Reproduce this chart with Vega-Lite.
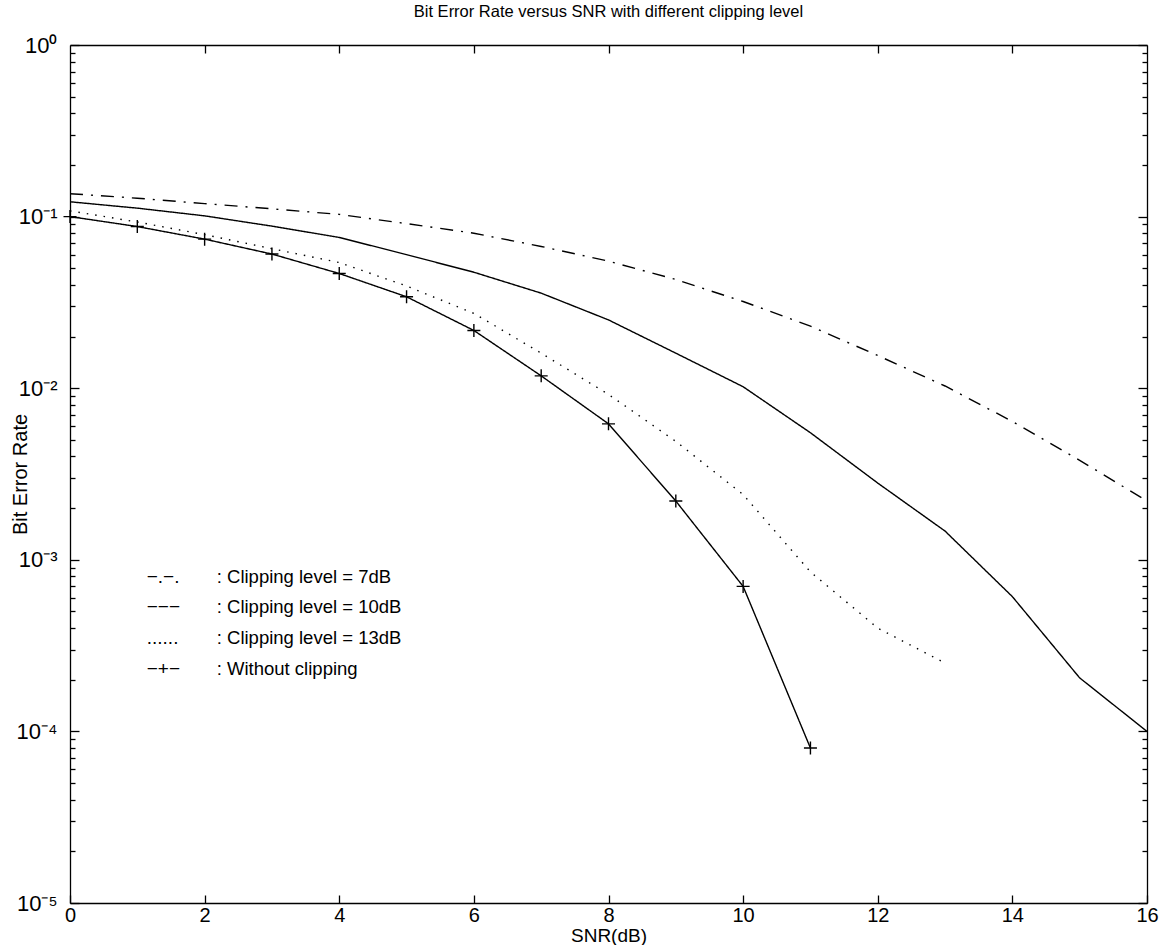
{
  "$schema": "https://vega.github.io/schema/vega-lite/v6.json",
  "width": 1077,
  "height": 858,
  "autosize": {"type": "none"},
  "padding": {"left": 70, "top": 45, "right": 23, "bottom": 42},
  "background": "white",
  "title": {"text": "Bit Error Rate versus SNR with different clipping level", "font": "Liberation Sans", "fontSize": 16.5, "fontWeight": "normal", "color": "black", "offset": 14},
  "config": {
    "view": {"stroke": null},
    "axis": {"domainColor": "black", "tickColor": "black", "labelColor": "black", "titleColor": "black", "labelFont": "Liberation Sans", "titleFont": "Liberation Sans", "titleFontWeight": "normal", "labelFontSize": 20, "titleFontSize": 19, "grid": false, "domainWidth": 1.3, "tickWidth": 1.3}
  },
  "datasets": {
    "curves": [
      {"series": "7dB", "snr": 0, "ber": 0.136}, {"series": "7dB", "snr": 1, "ber": 0.128}, {"series": "7dB", "snr": 2, "ber": 0.119}, {"series": "7dB", "snr": 3, "ber": 0.111}, {"series": "7dB", "snr": 4, "ber": 0.103}, {"series": "7dB", "snr": 5, "ber": 0.091}, {"series": "7dB", "snr": 6, "ber": 0.080}, {"series": "7dB", "snr": 7, "ber": 0.067}, {"series": "7dB", "snr": 8, "ber": 0.055}, {"series": "7dB", "snr": 9, "ber": 0.043}, {"series": "7dB", "snr": 10, "ber": 0.032}, {"series": "7dB", "snr": 11, "ber": 0.023}, {"series": "7dB", "snr": 12, "ber": 0.0155}, {"series": "7dB", "snr": 13, "ber": 0.0103}, {"series": "7dB", "snr": 14, "ber": 0.0064}, {"series": "7dB", "snr": 15, "ber": 0.0038}, {"series": "7dB", "snr": 16, "ber": 0.0022},
      {"series": "10dB", "snr": 0, "ber": 0.122}, {"series": "10dB", "snr": 1, "ber": 0.112}, {"series": "10dB", "snr": 2, "ber": 0.101}, {"series": "10dB", "snr": 3, "ber": 0.088}, {"series": "10dB", "snr": 4, "ber": 0.0756}, {"series": "10dB", "snr": 5, "ber": 0.060}, {"series": "10dB", "snr": 6, "ber": 0.0474}, {"series": "10dB", "snr": 7, "ber": 0.0358}, {"series": "10dB", "snr": 8, "ber": 0.025}, {"series": "10dB", "snr": 9, "ber": 0.016}, {"series": "10dB", "snr": 10, "ber": 0.0102}, {"series": "10dB", "snr": 11, "ber": 0.0055}, {"series": "10dB", "snr": 12, "ber": 0.0028}, {"series": "10dB", "snr": 13, "ber": 0.00147}, {"series": "10dB", "snr": 14, "ber": 0.00061}, {"series": "10dB", "snr": 15, "ber": 0.000205}, {"series": "10dB", "snr": 16, "ber": 0.0001},
      {"series": "13dB", "snr": 0, "ber": 0.108}, {"series": "13dB", "snr": 1, "ber": 0.093}, {"series": "13dB", "snr": 2, "ber": 0.0785}, {"series": "13dB", "snr": 3, "ber": 0.065}, {"series": "13dB", "snr": 4, "ber": 0.054}, {"series": "13dB", "snr": 5, "ber": 0.0394}, {"series": "13dB", "snr": 6, "ber": 0.0273}, {"series": "13dB", "snr": 7, "ber": 0.016}, {"series": "13dB", "snr": 8, "ber": 0.0092}, {"series": "13dB", "snr": 9, "ber": 0.0049}, {"series": "13dB", "snr": 10, "ber": 0.0024}, {"series": "13dB", "snr": 11, "ber": 0.00085}, {"series": "13dB", "snr": 12, "ber": 0.0004}, {"series": "13dB", "snr": 13, "ber": 0.00025},
      {"series": "Without clipping", "snr": 0, "ber": 0.1}, {"series": "Without clipping", "snr": 1, "ber": 0.0875}, {"series": "Without clipping", "snr": 2, "ber": 0.0739}, {"series": "Without clipping", "snr": 3, "ber": 0.0605}, {"series": "Without clipping", "snr": 4, "ber": 0.0466}, {"series": "Without clipping", "snr": 5, "ber": 0.0341}, {"series": "Without clipping", "snr": 6, "ber": 0.0217}, {"series": "Without clipping", "snr": 7, "ber": 0.0118}, {"series": "Without clipping", "snr": 8, "ber": 0.0062}, {"series": "Without clipping", "snr": 9, "ber": 0.0022}, {"series": "Without clipping", "snr": 10, "ber": 0.0007}, {"series": "Without clipping", "snr": 11, "ber": 0.00008}
    ],
    "legend": [
      {"sym": "−.−.", "desc": ":  Clipping level = 7dB", "snr": 1.14, "ber": 0.00079},
      {"sym": "−−−", "desc": ":  Clipping level = 10dB", "snr": 1.14, "ber": 0.00053},
      {"sym": "......", "desc": ":   Clipping level = 13dB", "snr": 1.14, "ber": 0.00035},
      {"sym": "−+−", "desc": ":  Without clipping", "snr": 1.14, "ber": 0.000231}
    ]
  },
  "resolve": {"axis": {"x": "independent", "y": "independent"}},
  "layer": [
    {
      "data": {"name": "curves"},
      "mark": {"type": "line", "color": "black", "strokeWidth": 1.4, "strokeCap": "butt"},
      "encoding": {
        "x": {"field": "snr", "type": "quantitative", "scale": {"domain": [0, 16], "nice": false, "zero": false},
          "axis": {"orient": "bottom", "title": "SNR(dB)", "values": [0, 2, 4, 6, 8, 10, 12, 14, 16], "tickSize": -8, "labelPadding": 10, "labelFontSize": 20, "titleFontSize": 19, "titleY": 32, "titleBaseline": "middle", "labelFlush": false}},
        "y": {"field": "ber", "type": "quantitative", "scale": {"type": "log", "domain": [0.00001, 1], "nice": false},
          "axis": {"orient": "left", "title": "Bit Error Rate", "values": [1, 0.1, 0.01, 0.001, 0.0001, 0.00001], "tickSize": -9, "labelPadding": 22, "labelFontSize": 22, "titleFontSize": 20, "titleX": -50, "titleY": 429, "titleBaseline": "middle", "titleAlign": "center", "titleAngle": -90,
            "labelExpr": "datum.value == 1 ? '10⁰' : datum.value == 0.1 ? '10⁻¹' : datum.value == 0.01 ? '10⁻²' : datum.value == 0.001 ? '10⁻³' : datum.value == 0.0001 ? '10⁻⁴' : '10⁻⁵'"}},
        "strokeDash": {"field": "series", "type": "nominal", "scale": {"domain": ["7dB", "10dB", "13dB", "Without clipping"], "range": [[13, 8, 2, 8], [1, 0], [1.5, 7], [1, 0]]}, "legend": null},
        "detail": {"field": "series"}
      }
    },
    {
      "data": {"name": "curves"},
      "transform": [{"filter": "datum.series == 'Without clipping'"}],
      "mark": {"type": "point", "shape": "M-1,0H1M0,-1V1", "filled": false, "stroke": "black", "strokeWidth": 1.4, "size": 169, "opacity": 1},
      "encoding": {
        "x": {"field": "snr", "type": "quantitative", "axis": {"orient": "top", "title": null, "labels": false, "values": [2, 4, 6, 8, 10, 12, 14], "tickSize": -8}},
        "y": {"field": "ber", "type": "quantitative", "axis": {"orient": "right", "title": null, "labels": false, "values": [1, 0.1, 0.01, 0.001, 0.0001, 0.00001], "tickSize": -9}}
      }
    },
    {
      "data": {"name": "legend"},
      "mark": {"type": "text", "align": "left", "baseline": "middle", "font": "Liberation Sans", "fontSize": 19, "color": "black"},
      "encoding": {
        "x": {"field": "snr", "type": "quantitative", "axis": null},
        "y": {"field": "ber", "type": "quantitative", "axis": {"orient": "left", "title": null, "labels": false, "domain": false, "values": [0.9, 0.8, 0.7, 0.6, 0.5, 0.4, 0.3, 0.2, 0.09, 0.08, 0.07, 0.06, 0.05, 0.04, 0.03, 0.02, 0.009, 0.008, 0.007, 0.006, 0.005, 0.004, 0.003, 0.002, 0.0009, 0.0008, 0.0007, 0.0006, 0.0005, 0.0004, 0.0003, 0.0002, 0.00009, 0.00008, 0.00007, 0.00006, 0.00005, 0.00004, 0.00003, 0.00002], "tickSize": -5}},
        "text": {"field": "sym"}
      }
    },
    {
      "data": {"name": "legend"},
      "mark": {"type": "text", "align": "left", "baseline": "middle", "font": "Liberation Sans", "fontSize": 18.5, "color": "black", "dx": 70},
      "encoding": {
        "x": {"field": "snr", "type": "quantitative", "axis": null},
        "y": {"field": "ber", "type": "quantitative", "axis": {"orient": "right", "title": null, "labels": false, "domain": false, "values": [0.9, 0.8, 0.7, 0.6, 0.5, 0.4, 0.3, 0.2, 0.09, 0.08, 0.07, 0.06, 0.05, 0.04, 0.03, 0.02, 0.009, 0.008, 0.007, 0.006, 0.005, 0.004, 0.003, 0.002, 0.0009, 0.0008, 0.0007, 0.0006, 0.0005, 0.0004, 0.0003, 0.0002, 0.00009, 0.00008, 0.00007, 0.00006, 0.00005, 0.00004, 0.00003, 0.00002], "tickSize": -5}},
        "text": {"field": "desc"}
      }
    }
  ]
}
